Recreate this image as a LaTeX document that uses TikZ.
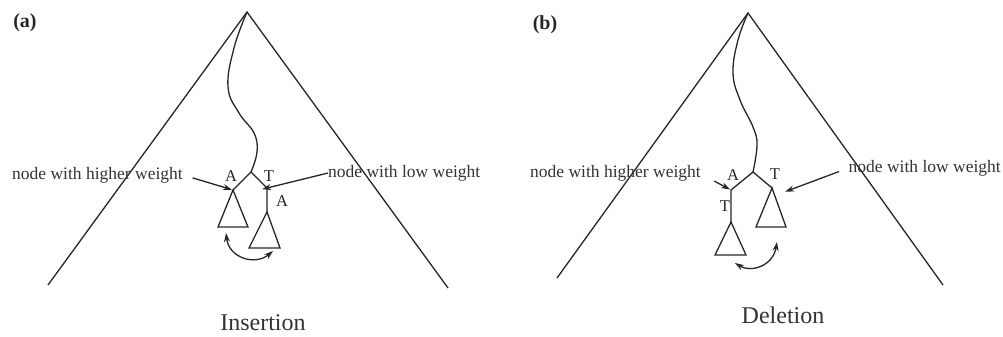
\documentclass[tikz,border=0pt]{standalone}
\usepackage{fontspec}
\setmainfont{Liberation Serif}
\usetikzlibrary{arrows.meta}
\tikzset{
  ln/.style={line width=1.3pt, draw=black!85},
  arr/.style={ln, -{Stealth[length=9pt,width=6pt]}},
  darr/.style={ln, {Stealth[length=9pt,width=6pt]}-{Stealth[length=9pt,width=6pt]}},
  lbl/.style={inner sep=0pt, text=black!80, font=\fontsize{17.5}{20}\selectfont},
  lettxt/.style={inner sep=0pt, text=black!85, font=\fontsize{16.5}{18}\selectfont},
  ttl/.style={inner sep=0pt, text=black!85, font=\fontsize{20}{22}\selectfont\bfseries},
  captxt/.style={inner sep=0pt, text=black!80, font=\fontsize{24}{26}\selectfont},
}
\begin{document}
\begin{tikzpicture}[x=1pt,y=-1pt]
\useasboundingbox (0,0) rectangle (1003,337);
% ---------------- panel (a) ----------------
\node[ttl] (ta) at (25,23) {(a)};
\coordinate (apexA) at (247,12);
\coordinate (blA) at (48,285);
\coordinate (brA) at (448,288);
\draw[ln] (blA) -- (apexA) -- (brA);
\coordinate (forkA) at (251,172);
\draw[ln] plot[smooth, tension=0.7] coordinates {(247,12) (234,48) (228,87) (239,113) (254,133) (257,152) (251,172)};
\coordinate (ltA) at (233,190);
\coordinate (rjA) at (267,188);
\coordinate (rtA) at (267,212);
\draw[ln] (ltA) -- (forkA) -- (rjA) -- (rtA);
\draw[ln] (ltA) -- (218,227) -- (248,227) -- cycle;
\draw[ln] (rtA) -- (249,248) -- (280,248) -- cycle;
\node[lettxt] (aA1) at (231,176) {A};
\node[lettxt] (aT) at (269,176) {T};
\node[lettxt] (aA2) at (282,201) {A};
\node[lbl, anchor=west] (hiA) at (12,175) {node with higher weight};
\node[lbl, anchor=west] (loA) at (328,173) {node with low weight};
\draw[arr, shorten <=10pt, shorten >=1pt] (hiA.east) -- (ltA);
\draw[arr, shorten >=-5pt] (loA.west) -- (rjA);
\coordinate (caS) at (226,233);
\coordinate (caE) at (273,251);
\draw[darr] (caS) .. controls (229,258) and (255,266) .. (caE);
\node[captxt] (ins) at (263,323) {Insertion};
% ---------------- panel (b) ----------------
\node[ttl] (tb) at (545,25) {(b)};
\coordinate (apexB) at (748,13);
\coordinate (blB) at (557,278);
\coordinate (brB) at (943,285);
\draw[ln] (blB) -- (apexB) -- (brB);
\coordinate (forkB) at (753,172);
\draw[ln] plot[smooth, tension=0.7] coordinates {(748,13) (738,40) (733,73) (740,100) (753,127) (757,145) (753,172)};
\coordinate (ljB) at (731,190);
\coordinate (ltB) at (731,222);
\coordinate (rtB) at (772,188);
\draw[ln] (ltB) -- (ljB) -- (forkB) -- (rtB);
\draw[ln] (ltB) -- (715,255) -- (746,255) -- cycle;
\draw[ln] (rtB) -- (756,227) -- (786,227) -- cycle;
\node[lettxt] (bA) at (733,175) {A};
\node[lettxt] (bT1) at (775,174) {T};
\node[lettxt] (bT2) at (725,206) {T};
\node[lbl, anchor=west] (hiB) at (530,173) {node with higher weight};
\node[lbl, anchor=east] (loB) at (1001,168) {node with low weight};
\draw[arr, shorten <=10pt, shorten >=-2pt] (loB.west) -- ([xshift=15pt,yshift=-3pt]rtB);
\draw[arr, shorten <=15pt, shorten >=1pt] ([yshift=-1pt]hiB.east) -- (ljB);
\coordinate (cbS) at (735,263);
\coordinate (cbE) at (777,242);
\draw[darr] (cbS) .. controls (751,273) and (773,266) .. (cbE);
\node[captxt] (del) at (783,315) {Deletion};
\end{tikzpicture}
\end{document}
